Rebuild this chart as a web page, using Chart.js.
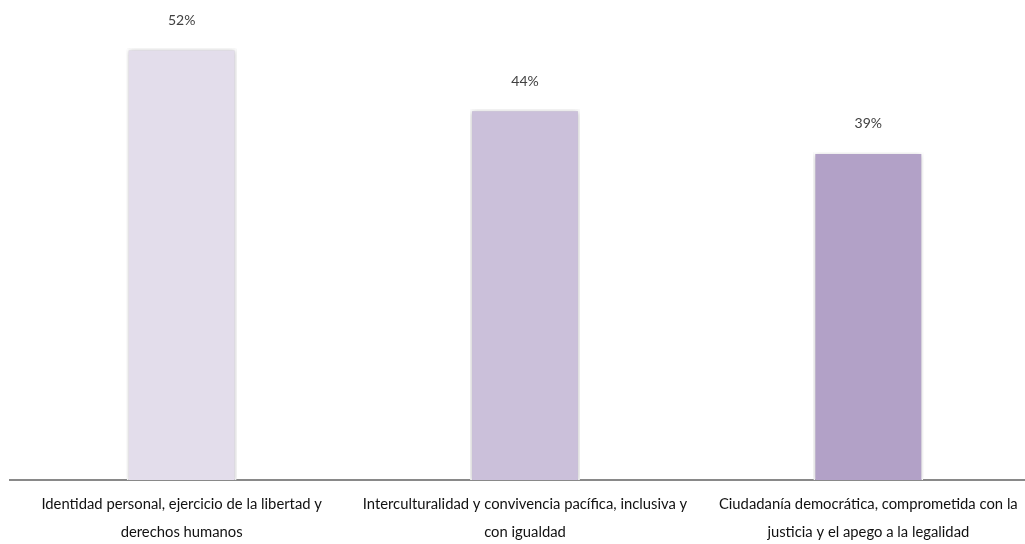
<!DOCTYPE html>
<html>
<head>
<meta charset="utf-8">
<script src="https://cdn.jsdelivr.net/npm/chart.js@4/dist/chart.umd.min.js"></script>
<style>
html,body{margin:0;padding:0;background:#fff;overflow:hidden;}
#wrap{position:relative;width:1025px;height:544px;overflow:hidden;}
#box{position:absolute;left:0;top:0;width:1040px;height:544px;}
</style>
</head>
<body>
<div id="wrap"><div id="box"><canvas id="c"></canvas></div></div>
<script>
const categories = [
  ["Identidad personal, ejercicio de la libertad y", "derechos humanos"],
  ["Interculturalidad y convivencia pacífica, inclusiva y", "con igualdad"],
  ["Ciudadanía democrática, comprometida con la", "justicia y el apego a la legalidad"]
];
const values = [51.7, 44.4, 39.3];
const valueLabels = ["52%", "44%", "39%"];
const barColors = ["#E3DDEB", "#CBC0DA", "#B2A1C7"];

const shadowPlugin = {
  id: 'shadow',
  beforeDatasetsDraw(chart) {
    const ctx = chart.ctx;
    ctx.save();
    ctx.shadowColor = 'rgba(0,0,0,0.28)';
    ctx.shadowBlur = 5;
    ctx.shadowOffsetX = 0;
    ctx.shadowOffsetY = 1;
  },
  afterDatasetsDraw(chart) {
    chart.ctx.restore();
    const ctx = chart.ctx;
    const meta = chart.getDatasetMeta(0);
    ctx.save();
    ctx.font = '14px Lato, "Open Sans", sans-serif';
    ctx.fillStyle = '#404040';
    ctx.textAlign = 'center';
    ctx.textBaseline = 'middle';
    meta.data.forEach((el, i) => {
      ctx.fillText(valueLabels[i], el.x, el.y - 28);
    });
    ctx.restore();
  }
};

new Chart(document.getElementById('c'), {
  type: 'bar',
  data: {
    labels: categories,
    datasets: [{
      data: values,
      backgroundColor: barColors,
      borderColor: '#FFFFFF',
      borderWidth: 2,
      barPercentage: 0.32,
      categoryPercentage: 1.0
    }]
  },
  options: {
    responsive: true,
    maintainAspectRatio: false,
    animation: false,
    layout: { padding: { left: 10, right: 0, top: 0, bottom: 0 } },
    plugins: { legend: { display: false }, tooltip: { enabled: false } },
    scales: {
      x: {
        grid: { display: false, drawTicks: false },
        border: { display: true, color: '#898989', width: 2 },
        ticks: {
          color: '#111111',
          padding: 10,
          maxRotation: 0,
          autoSkip: false,
          font: { family: 'Lato, "Open Sans", sans-serif', size: 14.8, lineHeight: 1.9 }
        },
        afterFit(scale) { scale.height = 64; }
      },
      y: {
        display: false,
        min: 0,
        max: 57.5
      }
    }
  },
  plugins: [shadowPlugin]
});
</script>
</body>
</html>
